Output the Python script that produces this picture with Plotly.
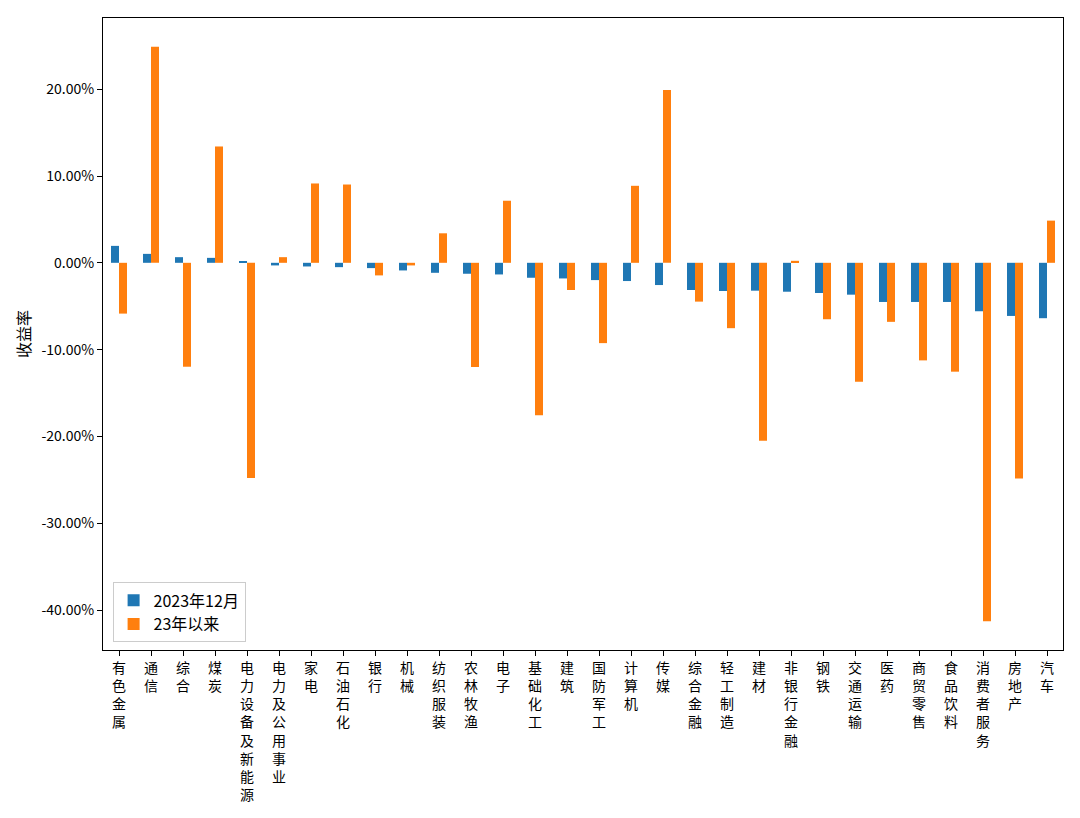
import plotly.graph_objects as go

categories = ["有色金属", "通信", "综合", "煤炭", "电力设备及新能源", "电力及公用事业", "家电", "石油石化",
              "银行", "机械", "纺织服装", "农林牧渔", "电子", "基础化工", "建筑", "国防军工", "计算机", "传媒",
              "综合金融", "轻工制造", "建材", "非银行金融", "钢铁", "交通运输", "医药", "商贸零售", "食品饮料",
              "消费者服务", "房地产", "汽车"]

dec_2023 = [1.95, 1.03, 0.65, 0.57, 0.19, -0.30, -0.42, -0.50, -0.61, -0.88,
            -1.15, -1.26, -1.34, -1.72, -1.80, -1.99, -2.10, -2.56, -3.13, -3.25,
            -3.21, -3.33, -3.48, -3.67, -4.51, -4.51, -4.51, -5.58, -6.12, -6.38]

since_2023 = [-5.85, 24.9, -11.97, 13.4, -24.8, 0.65, 9.14, 9.02, -1.45, -0.30,
              3.40, -12.0, 7.15, -17.55, -3.13, -9.25, 8.87, 19.9, -4.47, -7.53,
              -20.5, 0.23, -6.5, -13.7, -6.8, -11.24, -12.54, -41.3, -24.85, 4.86]

series_names = ["2023年12月", "23年以来"]
y_ticks = [-40, -30, -20, -10, 0, 10, 20]

font = "Noto Sans CJK SC, sans-serif"

fig = go.Figure()
fig.add_trace(go.Bar(x=list(range(len(categories))), y=dec_2023, name=series_names[0],
                     marker=dict(color="#1f77b4", line=dict(width=0))))
fig.add_trace(go.Bar(x=list(range(len(categories))), y=since_2023, name=series_names[1],
                     marker=dict(color="#ff7f0e", line=dict(width=0))))

fig.update_layout(
    width=1080, height=818,
    margin=dict(l=95, r=25, t=10, b=176),
    paper_bgcolor="white", plot_bgcolor="white",
    barmode="group", bargap=0.5, bargroupgap=0,
    font=dict(family=font, color="black", size=14),
    legend=dict(x=0.01, y=0.012, xanchor="left", yanchor="bottom",
                bordercolor="#cccccc", borderwidth=1, bgcolor="rgba(255,255,255,0.8)",
                font=dict(size=16, family=font)),
    showlegend=True,
)
fig.update_xaxes(
    range=[-0.5, len(categories) - 0.5],
    tickmode="array", tickvals=list(range(len(categories))),
    ticktext=["<br>".join(list(c)) for c in categories],
    tickangle=0, tickfont=dict(size=14, family=font),
    showline=True, linecolor="black", linewidth=1, mirror=True,
    ticks="outside", ticklen=5, tickcolor="black",
    showgrid=False, zeroline=False,
)
fig.update_yaxes(
    range=[-44.6, 28.2],
    tickmode="array", tickvals=y_ticks, ticktext=[f"{v:.2f}%" for v in y_ticks],
    tickfont=dict(size=14, family=font),
    showline=True, linecolor="black", linewidth=1, mirror=True,
    ticks="outside", ticklen=5, tickcolor="black",
    showgrid=False, zeroline=False,
    title=dict(text="收益率", font=dict(size=16, family=font), standoff=6),
)

fig.write_html("out.html")
